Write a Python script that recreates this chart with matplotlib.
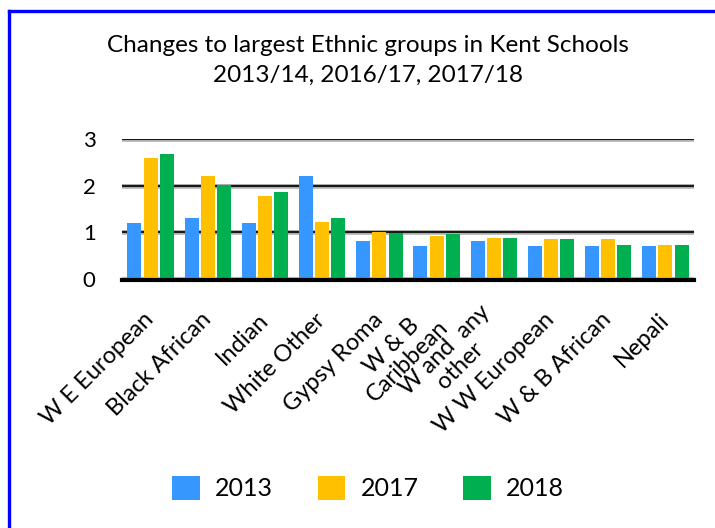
import matplotlib
matplotlib.use("Agg")
import matplotlib.pyplot as plt
from matplotlib.lines import Line2D
import numpy as np

# Ethnic groups (tick labels as shown, wrapped like the original)
groups = [
    "W E European",
    "Black African",
    "Indian",
    "White Other",
    "Gypsy Roma",
    "W & B\nCaribbean",
    "W and  any\nother",
    "W W European",
    "W & B African",
    "Nepali",
]
years = ["2013", "2017", "2018"]

# Values (%)
vals_2013 = [1.20, 1.30, 1.20, 2.21, 0.81, 0.70, 0.81, 0.70, 0.70, 0.70]
vals_2017 = [2.59, 2.21, 1.78, 1.22, 1.00, 0.92, 0.87, 0.85, 0.85, 0.72]
vals_2018 = [2.68, 2.01, 1.86, 1.30, 0.98, 0.96, 0.87, 0.85, 0.72, 0.72]

colors = ["#3597FF", "#FFC000", "#00B050"]

plt.rcParams["font.family"] = ["Lato", "DejaVu Sans"]

fig = plt.figure(figsize=(7.15, 5.28), dpi=100)
ax = fig.add_axes([122 / 715, 1 - 279 / 528, 572 / 715, 140 / 528])

x = np.arange(len(groups))
step = 0.284
width = 0.245
for k, (vals, lab) in enumerate(zip([vals_2013, vals_2017, vals_2018], years)):
    ax.bar(x + (k - 1) * step, vals, width, color=colors[k], label=lab, zorder=3)

# gridlines: black with a grey halo
for yv in [1, 2, 3]:
    ax.axhline(yv, color="#c0c0c0", lw=3.6, zorder=1)
    ax.axhline(yv, color="#1a1a1a", lw=1.6, zorder=2)
ax.axhline(0, color="#c0c0c0", lw=3.0, zorder=1)
ax.axhline(-0.025, color="black", lw=3.0, zorder=4, clip_on=False)

ax.set_xlim(-0.5, len(groups) - 0.5)
ax.set_ylim(0, 3)
ax.set_yticks([0, 1, 2, 3])
ax.tick_params(axis="y", length=0, pad=19, labelsize=16)
ax.tick_params(axis="x", length=0, pad=27, labelsize=17)
ax.set_xticks(x)
ax.set_xticklabels(groups, rotation=45, ha="right", va="center",
                   rotation_mode="anchor", multialignment="center",
                   linespacing=1.05)
for s in ax.spines.values():
    s.set_visible(False)

fig.text(0.514, 1 - 45 / 528, "Changes to largest Ethnic groups in Kent Schools",
         ha="center", va="center", fontsize=17.5)
fig.text(0.514, 1 - 75 / 528, "2013/14, 2016/17, 2017/18",
         ha="center", va="center", fontsize=17.5)

fig.legend(loc="center", bbox_to_anchor=(0.515, 1 - 488 / 528), ncol=3,
           frameon=False, fontsize=18, handlelength=1.1, handleheight=1.1,
           handletextpad=0.6, columnspacing=1.8)

# blue frame (top and left edges visible)
fig.add_artist(Line2D([9 / 715, 9 / 715], [0, 1 - 11 / 528], color="#0000FF",
                      lw=2.4, transform=fig.transFigure))
fig.add_artist(Line2D([9 / 715, 1], [1 - 11 / 528, 1 - 11 / 528], color="#0000FF",
                      lw=2.4, transform=fig.transFigure))

fig.savefig("out.png", dpi=100)
